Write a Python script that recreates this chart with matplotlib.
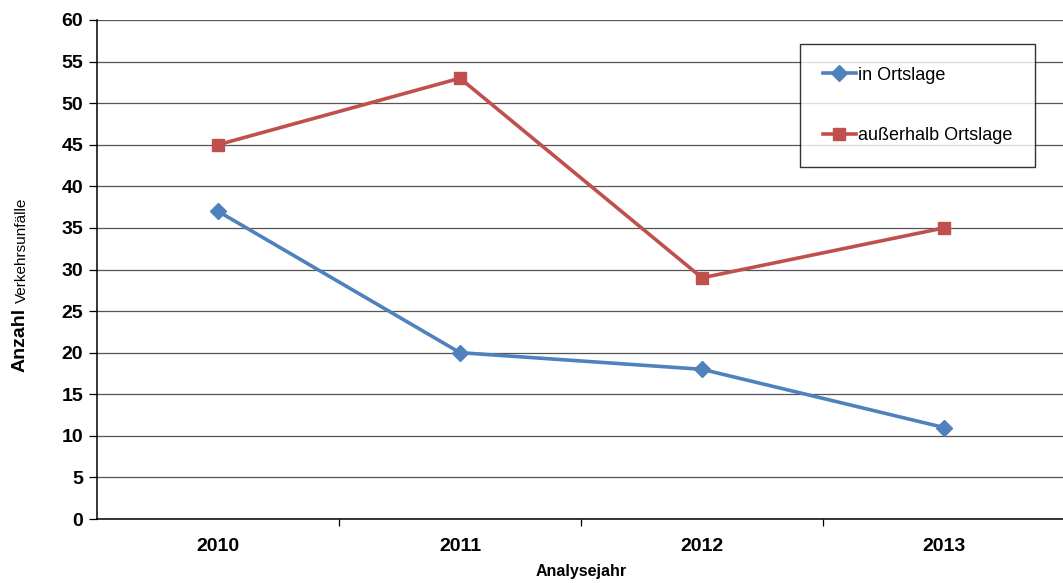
import matplotlib
matplotlib.use("Agg")
import matplotlib.pyplot as plt
from matplotlib import font_manager

names = {f.name for f in font_manager.fontManager.ttflist}
narrow = "Liberation Sans Narrow" if "Liberation Sans Narrow" in names else "Liberation Sans"
plt.rcParams["font.family"] = [narrow, "DejaVu Sans"]

years = ["2010", "2011", "2012", "2013"]
in_ortslage = [37, 20, 18, 11]
ausserhalb = [45, 53, 29, 35]
y_ticks = list(range(0, 61, 5))

W, H = 1063, 583
fig = plt.figure(figsize=(W / 100, H / 100), dpi=100)
ax = fig.add_axes([97 / W, 1 - 519 / H, 968 / W, (519 - 20) / H])

x = list(range(len(years)))
ax.plot(x, in_ortslage, color="#4F81BD", lw=2.6, marker="D", ms=8.5,
        label="in Ortslage", zorder=3)
ax.plot(x, ausserhalb, color="#C0504D", lw=2.6, marker="s", ms=8.5,
        label="außerhalb Ortslage", zorder=3)

ax.set_xlim(-0.5, len(years) - 0.5)
ax.set_ylim(0, 60)
ax.set_yticks(y_ticks)
ax.set_yticklabels([str(v) for v in y_ticks], fontsize=14, fontweight="bold")
ax.yaxis.grid(True, color="#555555", lw=0.9)
ax.set_axisbelow(True)

ax.set_xticks(x)
ax.set_xticklabels(years, fontsize=14, fontweight="bold")
ax.tick_params(axis="x", which="major", length=0, pad=14)
ax.set_xticks([i + 0.5 for i in range(len(years) - 1)], minor=True)
ax.tick_params(axis="x", which="minor", length=5, width=0.9, direction="out")
ax.tick_params(axis="y", length=6, width=0.9, direction="out", pad=4)

for s in ["top", "right"]:
    ax.spines[s].set_visible(False)
for s in ["left", "bottom"]:
    ax.spines[s].set_linewidth(1.1)
    ax.spines[s].set_color("black")

ax.set_xlabel("Analysejahr", fontsize=11.5, fontweight="bold", labelpad=6)

fig.text(20 / W, 1 - 340 / H, "Anzahl", rotation=90, fontsize=14,
         fontweight="bold", ha="center", va="center")
fig.text(22 / W, 1 - 250 / H, "Verkehrsunfälle", rotation=90, fontsize=11,
         ha="center", va="center")

leg = ax.legend(loc="upper left", bbox_to_anchor=((800 - 97) / 968, 1 - (44 - 20) / 499),
                frameon=True, fancybox=False, edgecolor="black", fontsize=13,
                labelspacing=2.42, handlelength=1.85, handletextpad=0.1,
                borderpad=1.25, borderaxespad=0)
leg.get_frame().set_linewidth(1.0)

fig.savefig("out.png", dpi=100)
